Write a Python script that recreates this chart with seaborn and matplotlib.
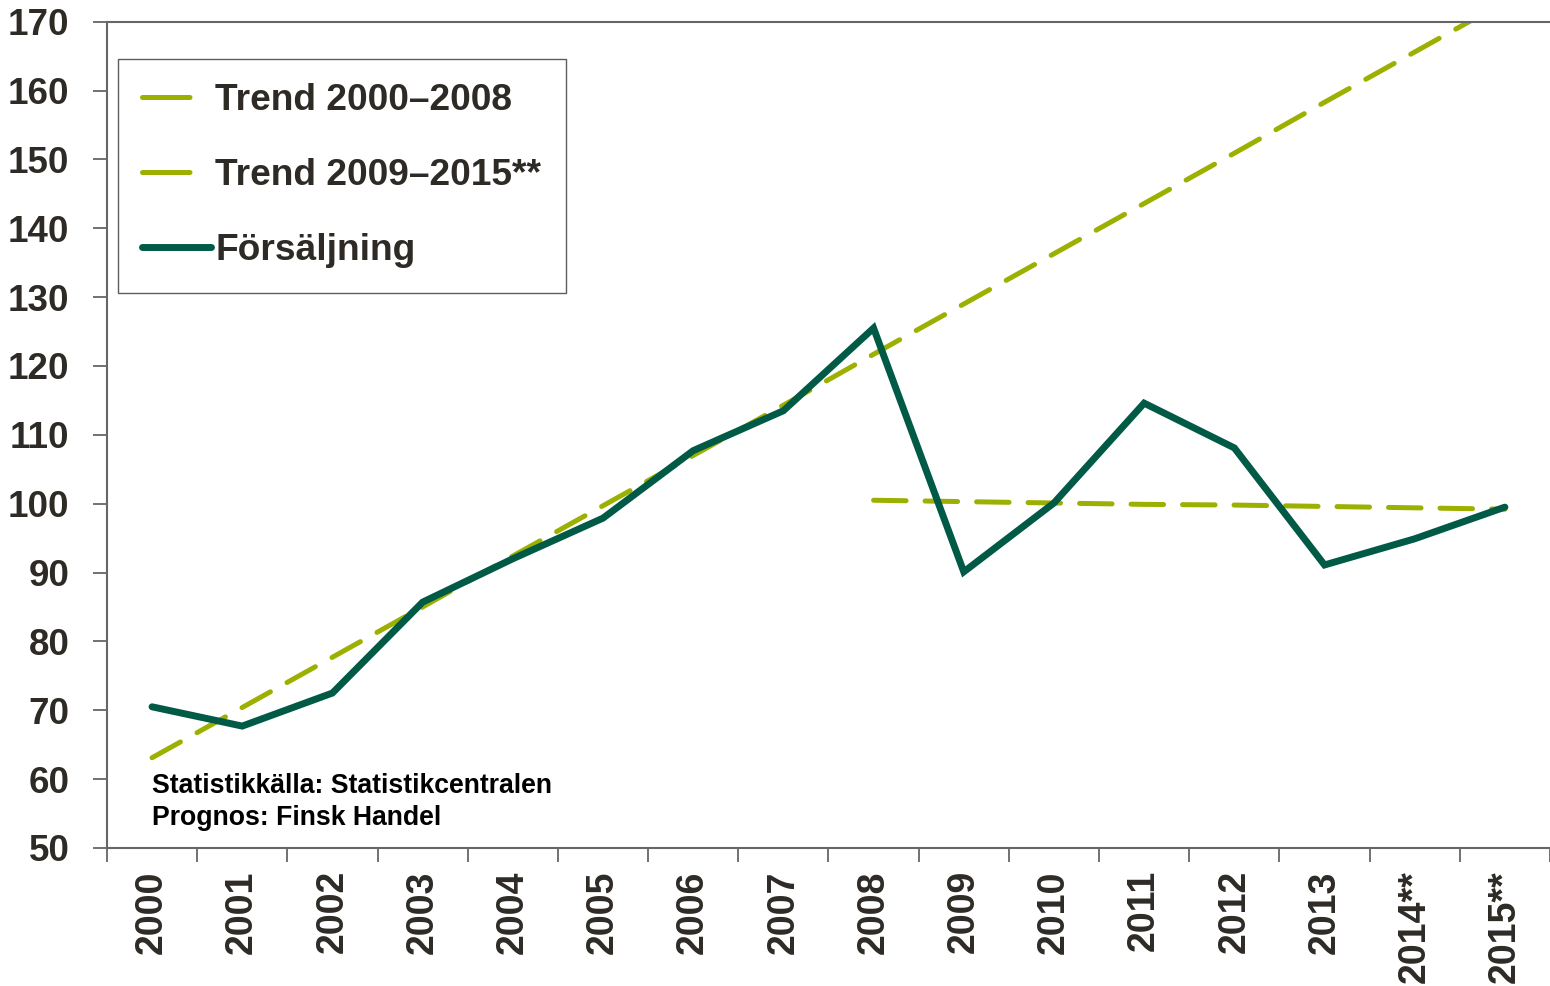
import matplotlib
matplotlib.use("Agg")
import matplotlib.pyplot as plt
from matplotlib.lines import Line2D
import seaborn as sns
import pandas as pd

years = ["2000", "2001", "2002", "2003", "2004", "2005", "2006", "2007",
         "2008", "2009", "2010", "2011", "2012", "2013", "2014**", "2015**"]
sales = [70.5, 67.7, 72.5, 85.7, 92.0, 97.9, 107.7, 113.5,
         125.5, 90.1, 100.1, 114.6, 108.1, 91.1, 94.9, 99.5]
trend_2000_2008 = [63.1, 70.4, 77.7, 85.0, 92.4, 99.7, 107.0, 114.3,
                   121.7, 129.0, 136.3, 143.6, 150.9, 158.3, 165.6, 172.9]
trend_2009_2015_years = ["2008", "2009", "2010", "2011", "2012", "2013", "2014**", "2015**"]
trend_2009_2015 = [100.5, 100.3, 100.1, 99.9, 99.8, 99.6, 99.4, 99.2]
yticks = [50, 60, 70, 80, 90, 100, 110, 120, 130, 140, 150, 160, 170]
labels = ["Trend 2000–2008", "Trend 2009–2015**", "Försäljning"]
notes = ["Statistikkälla: Statistikcentralen", "Prognos: Finsk Handel"]

sns.set_style("white")
plt.rcParams['font.family'] = ['Liberation Sans', 'DejaVu Sans']

TREND = "#9CB000"
SALES = "#005A46"
TXT = "#2E2A25"

pos = {y: i for i, y in enumerate(years)}
df_sales = pd.DataFrame({"x": [pos[y] for y in years], "y": sales})
df_t1 = pd.DataFrame({"x": [pos[y] for y in years], "y": trend_2000_2008})
df_t2 = pd.DataFrame({"x": [pos[y] for y in trend_2009_2015_years], "y": trend_2009_2015})

fig = plt.figure(figsize=(15.5, 9.86), dpi=100)
ax = fig.add_axes([0.069, 0.140, 0.931, 0.838])

dash = (6.5, 3.8)
sns.lineplot(data=df_t1, x="x", y="y", ax=ax, color=TREND, lw=3.6,
             dashes=False, estimator=None, sort=False)
sns.lineplot(data=df_t2, x="x", y="y", ax=ax, color=TREND, lw=3.6,
             dashes=False, estimator=None, sort=False)
sns.lineplot(data=df_sales, x="x", y="y", ax=ax, color=SALES, lw=5,
             estimator=None, sort=False)
for ln in ax.lines[:2]:
    ln.set_dashes(dash)
    ln.set_dash_capstyle("round")
ax.lines[2].set_solid_capstyle("round")
ax.lines[2].set_solid_joinstyle("miter")

ax.set_xlim(-0.5, len(years) - 0.5)
ax.set_ylim(50, 170)
ax.set_yticks(yticks)
ax.set_yticklabels([str(v) for v in yticks], fontsize=26.5, fontweight="bold", color=TXT)
ax.set_xticks(range(len(years)))
ax.set_xticklabels(years, rotation=90, fontsize=27, fontweight="bold", color=TXT)
ax.set_xticks([i - 0.5 for i in range(len(years) + 1)], minor=True)
ax.tick_params(axis="x", which="major", length=0, pad=16)
ax.tick_params(axis="x", which="minor", length=10, width=1.3, color="#666666", direction="out", bottom=True)
ax.tick_params(axis="y", length=10, width=1.3, color="#666666", direction="out", left=True, pad=17)
ax.set_xlabel("")
ax.set_ylabel("")
for s in ["left", "bottom", "top"]:
    ax.spines[s].set_color("#666666")
    ax.spines[s].set_linewidth(1.5)
ax.spines["right"].set_visible(False)

handles = [
    Line2D([], [], color=TREND, lw=3.6, dashes=(9.5, 20), dash_capstyle="round"),
    Line2D([], [], color=TREND, lw=3.6, dashes=(9.5, 20), dash_capstyle="round"),
    Line2D([], [], color=SALES, lw=5, solid_capstyle="round"),
]
leg = ax.legend(handles, labels, loc="upper left", bbox_to_anchor=(0.0076, 0.955),
                borderaxespad=0, frameon=True, fancybox=False, edgecolor="#333333",
                prop={"size": 26.7, "weight": "bold"}, handlelength=1.85,
                handletextpad=0.12, labelspacing=1.08, borderpad=0.66)
leg.get_frame().set_linewidth(1.0)
for t in leg.get_texts():
    t.set_color(TXT)

ax.text(0, 58.0, notes[0], fontsize=19.2, fontweight="bold", color="black", va="baseline", ha="left")
ax.text(0, 53.3, notes[1], fontsize=19.2, fontweight="bold", color="black", va="baseline", ha="left")

fig.savefig("out.png", dpi=100)
